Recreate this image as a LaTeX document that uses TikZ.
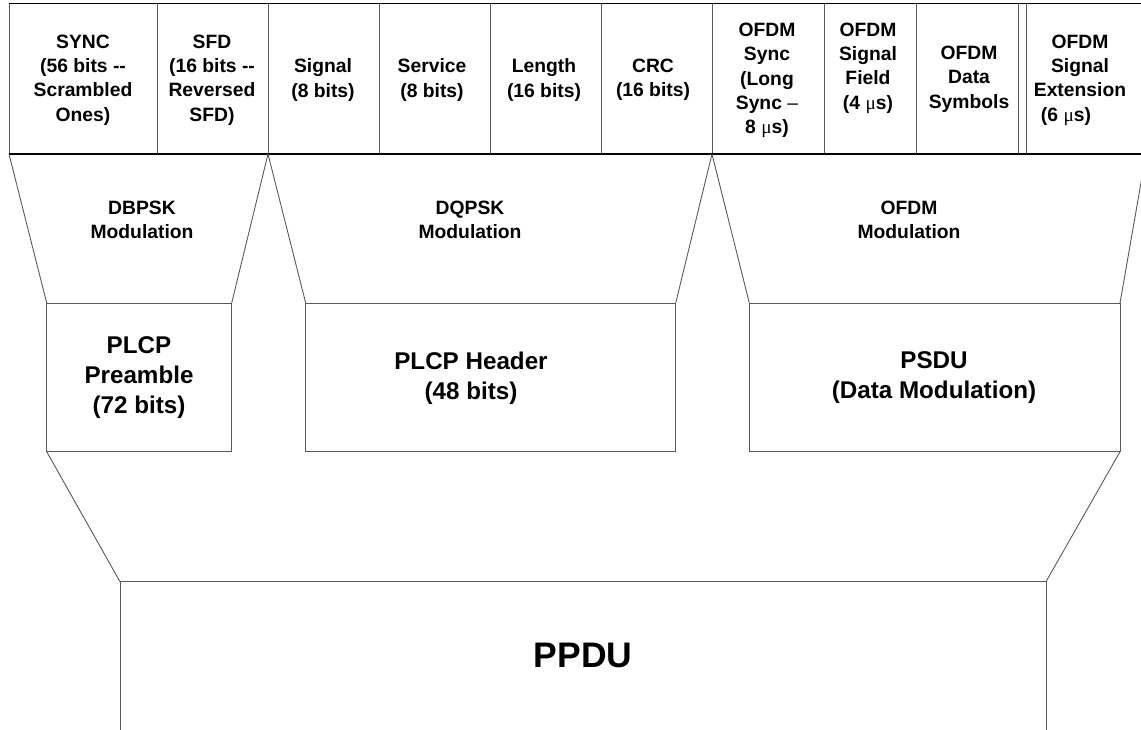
\documentclass[tikz,border=0pt]{standalone}
\usepackage{fontspec}
\setmainfont{Liberation Sans}
\newfontfamily\symf{Liberation Serif}
\newcommand{\mus}{{\symf\mdseries μ}s}
\begin{document}
\begin{tikzpicture}[x=1pt,y=-1pt,
  frame/.style={line width=1.6pt,black},
  divider/.style={line width=0.9pt,black!65},
  outline/.style={line width=0.9pt,black!65},
  hdr/.style={font=\fontsize{19.3}{24.3}\selectfont\bfseries,align=center,inner sep=0pt},
  modl/.style={font=\fontsize{19.3}{24.3}\selectfont\bfseries,align=center,inner sep=0pt},
  unitlbl/.style={font=\fontsize{24.2}{30}\selectfont\bfseries,align=center,inner sep=0pt},
  toplbl/.style={font=\fontsize{35.5}{40}\selectfont\bfseries,align=center,inner sep=0pt}]
\useasboundingbox (0,0) rectangle (1141,729);
% named coordinates
\coordinate (tl) at (9,3.5);
\coordinate (tr) at (1141,3.5);
\coordinate (bl) at (9,154);
\coordinate (br) at (1141,154);
\coordinate (a1) at (268,154);
\coordinate (a2) at (712,154);
\coordinate (a3) at (1146,154);
\coordinate (p1) at (46.7,303);
\coordinate (p2) at (231.7,303);
\coordinate (p3) at (231.7,451.7);
\coordinate (p4) at (46.7,451.7);
\coordinate (h1) at (305.7,303);
\coordinate (h2) at (675.7,303);
\coordinate (h3) at (675.7,451.7);
\coordinate (h4) at (305.7,451.7);
\coordinate (s1) at (749.3,303);
\coordinate (s2) at (1120,303);
\coordinate (s3) at (1120,451.7);
\coordinate (s4) at (749.3,451.7);
\coordinate (u1) at (120,581.7);
\coordinate (u2) at (1046,581.7);
\coordinate (u3) at (1046,740);
\coordinate (u4) at (120,740);
% top field row
\foreach \x in {157,268,379.5,490.7,601.7,712.7,824,916,1018.3,1026.7}
  \draw[divider] (\x,3.5) -- (\x,154);
\draw[divider] (tl) -- (bl);
\draw[frame] (tl) -- (tr);
\draw[frame] (bl) -- (br);
% modulation trapezoids
\begin{scope}
\clip (0,0) rectangle (1141,729);
\draw[outline] (bl) -- (p1);
\draw[outline] (a1) -- (p2);
\draw[outline] (a1) -- (h1);
\draw[outline] (a2) -- (h2);
\draw[outline] (a2) -- (s1);
\draw[outline] (a3) -- (s2);
% boxes
\draw[outline] (p1) -- (p2) -- (p3) -- (p4) -- cycle;
\draw[outline] (h1) -- (h2) -- (h3) -- (h4) -- cycle;
\draw[outline] (s1) -- (s2) -- (s3) -- (s4) -- cycle;
% lower trapezoid and PPDU
\draw[outline] (p4) -- (u1);
\draw[outline] (s3) -- (u2);
\draw[outline] (u4) -- (u1) -- (u2) -- (u3);
\end{scope}
% field labels
\node[hdr] (sync) at (83,80) {SYNC\\(56 bits -{}-\\Scrambled\\Ones)};
\node[hdr] (sfd) at (212,80) {SFD\\(16 bits -{}-\\Reversed\\SFD)};
\node[hdr] (signal) at (323,80) {Signal\\(8 bits)};
\node[hdr] (service) at (432,80) {Service\\(8 bits)};
\node[hdr] (length) at (544,80) {Length\\(16 bits)};
\node[hdr] (crc) at (653,80) {CRC\\(16 bits)};
\node[hdr] (osync) at (767,80.5) {OFDM\\Sync\\(Long\\Sync {\mdseries –}\\8 \mus)};
\node[hdr] (ofield) at (868,68) {OFDM\\Signal\\Field\\(4 \mus)};
\node[hdr] (odata) at (969,79) {OFDM\\Data\\Symbols};
\node[hdr] (oext) at (1080,80) {OFDM\\Signal\\Extension\\(6 \mus)\hspace*{28pt}};
% modulation labels
\node[modl] (dbpsk) at (142,220) {DBPSK\\Modulation};
\node[modl] (dqpsk) at (470,220) {DQPSK\\Modulation};
\node[modl] (ofdm) at (909,220) {OFDM\\Modulation};
% unit labels
\node[unitlbl] (pre) at (139,378) {PLCP\\Preamble\\(72 bits)};
\node[unitlbl] (hdrl) at (471,378) {PLCP Header\\(48 bits)};
\node[unitlbl] (psdu) at (934,378) {PSDU\\(Data Modulation)};
\node[toplbl] (ppdu) at (583,655) {PPDU};
\end{tikzpicture}
\end{document}
